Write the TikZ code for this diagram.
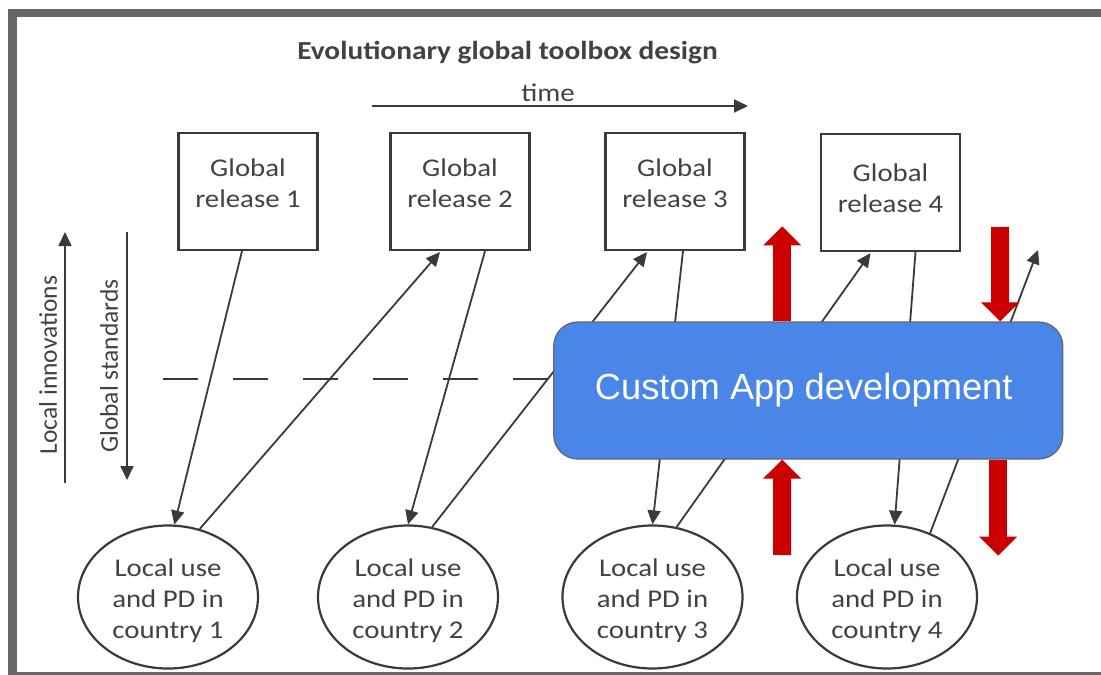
\documentclass[tikz,border=0pt]{standalone}
\usepackage{fontspec}
\setmainfont{Carlito}[FakeStretch=1.13]
\newfontfamily\plaincarl{Carlito}
\newfontfamily\arialf{Liberation Sans}
\usetikzlibrary{arrows.meta,shapes.geometric,calc}
\definecolor{framegray}{HTML}{666666}
\definecolor{inkgray}{HTML}{3A3A3A}
\definecolor{txtgray}{HTML}{424242}
\definecolor{appblue}{HTML}{4A86E8}
\definecolor{appred}{HTML}{CC0000}
\newcommand{\twoline}[3]{\raisebox{#3}[\height][\depth]{\begin{tabular}{@{}c@{}}#1\\#2\end{tabular}}}
\newcommand{\threeline}[4]{\raisebox{#4}[\height][\depth]{\begin{tabular}{@{}c@{}}#1\\#2\\#3\end{tabular}}}
\begin{document}
\begin{tikzpicture}[x=1pt,y=-1pt,
  bodyfont/.style={font=\fontsize{25.5}{31}\selectfont},
  relbox/.style={draw=inkgray, line width=2.2pt, minimum width=139pt, minimum height=117pt,
    inner sep=0pt, align=center, text=txtgray, bodyfont},
  usenode/.style={ellipse, draw=inkgray, line width=2.2pt, minimum width=180pt, minimum height=143pt,
    inner sep=0pt, align=center, text=txtgray, bodyfont},
  conn/.style={draw=inkgray, line width=1.8pt, -{Triangle[length=14pt,width=13pt]}},
  dashline/.style={draw=inkgray, line width=2pt, dash pattern=on 35pt off 35pt},
  redarrow/.style={draw=appred, line width=18pt, -{Triangle[length=19pt,width=37pt]}},
  sidetext/.style={text=txtgray, font=\plaincarl\fontsize{25.5}{31}\selectfont, rotate=90, inner sep=0pt}
]
\fill[white] (0,0) rectangle (1101,675);
\useasboundingbox (0,0) rectangle (1101,675);
% frame
\fill[framegray] (8,9) rectangle (1101,17);
\fill[framegray] (8,9) rectangle (17,675);
\fill[framegray] (8,672) rectangle (1101,675);

% title and time
\node[anchor=base, text=txtgray, font=\bfseries\fontsize{26}{31}\selectfont, inner sep=0pt] (title) at (507.5,59) {Evolutionary global toolbox design};
\node[anchor=base, text=txtgray, bodyfont, inner sep=0pt] (timelbl) at (548,101) {time};
\coordinate (ta) at (372,106);
\coordinate (tb) at (748,106);
\draw[conn] (ta) -- (tb);

% side arrows
\coordinate (li0) at (65,483);
\coordinate (li1) at (65,232);
\draw[conn] (li0) -- (li1);
\node[sidetext] (litext) at (48,365) {Local innovations};
\coordinate (gs0) at (127,232);
\coordinate (gs1) at (127,480);
\draw[conn] (gs0) -- (gs1);
\node[sidetext] (gstext) at (109,366) {Global standards};

% dashed line start
\coordinate (dl) at (163,379);

% release boxes
\node[relbox] (b1) at (248,191.5) {\twoline{Global}{release 1}{6pt}};
\node[relbox] (b2) at (460,191.5) {\twoline{Global}{release 2}{6pt}};
\node[relbox] (b3) at (675,191.5) {\twoline{Global}{release 3}{6pt}};
\node[relbox] (b4) at (890.5,192.5) {\twoline{Global}{release 4}{2pt}};

% local ellipses
\node[usenode] (e1) at (168,597) {\threeline{Local use}{and PD in}{country 1}{-4pt}};
\node[usenode] (e2) at (408,597) {\threeline{Local use}{and PD in}{country 2}{-4pt}};
\node[usenode] (e3) at (652.5,597) {\threeline{Local use}{and PD in}{country 3}{-4pt}};
\node[usenode] (e4) at (887,597) {\threeline{Local use}{and PD in}{country 4}{-4pt}};

% free ends
\coordinate (fe) at (1038,250);
\coordinate (ra2top) at (1000,227);
\coordinate (ra3bot) at (782,555);

\path (808.25,390.5) node[minimum width=509pt, minimum height=137pt] (cadghost) {};
\draw[dashline] (dl) -- (dl -| cadghost.west);

% connectors
\draw[conn] ([xshift=-6pt]b1.south) -- (e1.85);
\draw[conn] (e1.65) -- ([xshift=-20pt,yshift=-1pt]b2.south);
\draw[conn] ([xshift=25pt]b2.south) -- (e2.90);
\draw[conn] (e2.71) -- ([xshift=-28pt,yshift=-1pt]b3.south);
\draw[conn] ([xshift=8pt]b3.south) -- (e3.90);
\draw[conn] (e3.71) -- ([xshift=-20pt,yshift=-1pt]b4.south);
\draw[conn] ([xshift=25pt]b4.south) -- (e4.84);
\draw[conn] (e4.56) -- (fe);

% custom app box
\node[draw=black!60, fill=appblue, rounded corners=24pt, line width=1.2pt,
  minimum width=509pt, minimum height=137pt, text=white,
  font=\arialf\fontsize{36.3}{40}\selectfont] (cad) at (808.25,390.5) {\hspace*{-9pt}Custom App development};

% red arrows
\draw[redarrow] ([xshift=-26pt]cad.north) -- ++(0,-95);
\draw[redarrow] (ra2top) -- ([xshift=192pt]cad.north);
\draw[redarrow] (ra3bot) -- ([xshift=-26pt]cad.south);
\draw[redarrow] ([xshift=190pt]cad.south) -- ++(0,96);
\end{tikzpicture}
\end{document}
